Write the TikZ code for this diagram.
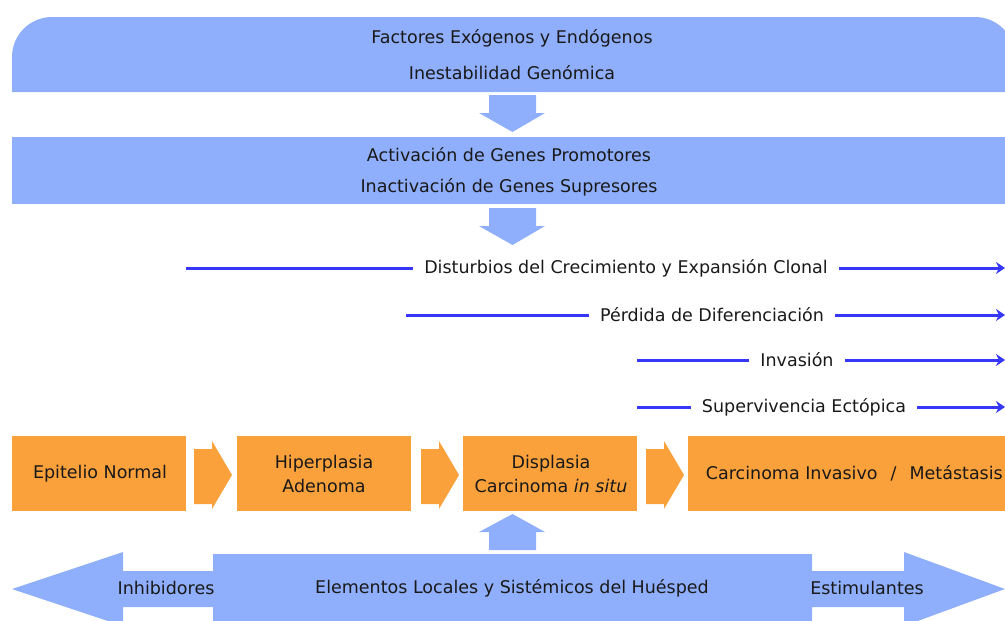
\documentclass[tikz,border=0pt]{standalone}
\usepackage{fontspec}
\setmainfont{DejaVu Sans}
\usetikzlibrary{arrows.meta}
\definecolor{lb}{RGB}{143,174,251}
\definecolor{orn}{RGB}{251,161,59}
\definecolor{bl}{RGB}{55,55,250}
\definecolor{txt}{RGB}{25,25,25}
\begin{document}
\begin{tikzpicture}[x=1pt,y=-1pt,
 every node/.style={font=\fontsize{17.5}{24}\selectfont, text=txt},
 obox/.style={fill=orn, minimum height=75pt, anchor=north west, inner sep=0pt},
 otext/.style={align=center, inner sep=0pt},
 lbl/.style={inner xsep=11pt, inner ysep=0pt},
 bline/.style={draw=bl, line width=3pt},
 barrow/.style={bline, -{Stealth[length=9pt,width=12pt,inset=3pt]}}
]
\useasboundingbox (0,0) rectangle (1005,621);
\clip (0,0) rectangle (1005,621);

% top box
\fill[lb, rounded corners=40pt] (12,92) -- (12,17) -- (1015,17) -- (1015,92);
\node (f1) at (512,38) {Factores Exógenos y Endógenos};
\node (f2) at (512,73) {Inestabilidad Genómica};

% arrow 1
\fill[lb] (489,95) -- (536,95) -- (536,113) -- (545,113) -- (512.5,132) -- (479,113) -- (489,113) -- cycle;

% second box
\node[fill=lb, minimum width=1010pt, minimum height=67pt, anchor=north west, inner sep=0pt] (g) at (12,137) {};
\node (g1) at (509,155) {Activación de Genes Promotores};
\node (g2) at (509,187) {Inactivación de Genes Supresores};

% arrow 2
\fill[lb] (489,208) -- (536,208) -- (536,226) -- (545,226) -- (512.5,245) -- (479,226) -- (489,226) -- cycle;

% process rows
\coordinate (s1) at (186,268); \coordinate (e1) at (1005,268);
\coordinate (s2) at (406,315); \coordinate (e2) at (1005,315);
\coordinate (s3) at (637,360); \coordinate (e3) at (1005,360);
\coordinate (s4) at (637,407); \coordinate (e4) at (1005,407);
\node[lbl] (r1) at (626,268) {Disturbios del Crecimiento y Expansión Clonal};
\node[lbl] (r2) at (712,315) {Pérdida de Diferenciación};
\node[lbl] (r3) at (797,360) {Invasión};
\node[lbl] (r4) at (804,407) {Supervivencia Ectópica};
\draw[bline] (s1) -- (r1.west); \draw[barrow] (r1.east) -- (e1);
\draw[bline] (s2) -- (r2.west); \draw[barrow] (r2.east) -- (e2);
\draw[bline] (s3) -- (r3.west); \draw[barrow] (r3.east) -- (e3);
\draw[bline] (s4) -- (r4.west); \draw[barrow] (r4.east) -- (e4);

% orange boxes
\node[obox, minimum width=174pt] (b1) at (12,436) {};
\node[obox, minimum width=174pt] (b2) at (237,436) {};
\node[obox, minimum width=174pt] (b3) at (463,436) {};
\node[obox, minimum width=330pt] (b4) at (688,436) {};
\node[otext] (t1) at (100,473.5) {Epitelio Normal};
\node[otext] (t2) at (324,473.5) {Hiperplasia\\Adenoma};
\node[otext] (t3) at (551,473.5) {Displasia\\Carcinoma \textit{in situ}};
\node[otext, anchor=east] (t4) at (1003,473.5) {Carcinoma Invasivo\hspace{13pt}/\hspace{13pt}Metástasis};

% chevron arrows
\foreach \x in {194,421,646}{
  \fill[orn] (\x,449) -- (\x+18,449) -- (\x+18,441) -- (\x+38,475) -- (\x+18,509) -- (\x+18,504) -- (\x,504) -- cycle;
}

% up arrow
\fill[lb] (489,550) -- (536,550) -- (536,532) -- (545,532) -- (512.5,514) -- (479,532) -- (489,532) -- cycle;

% bottom double arrow
\fill[lb] (12,589) -- (123,552) -- (123,571) -- (213,571) -- (213,554) -- (812,554) -- (812,571) -- (904,571) -- (904,552) -- (1005,589) -- (904,626) -- (904,607) -- (812,607) -- (812,630) -- (213,630) -- (213,607) -- (123,607) -- (123,626) -- cycle;
\node (h1) at (166,588) {Inhibidores};
\node (h2) at (512,588) {Elementos Locales y Sistémicos del Huésped};
\node (h3) at (867,588) {Estimulantes};
\end{tikzpicture}
\end{document}
